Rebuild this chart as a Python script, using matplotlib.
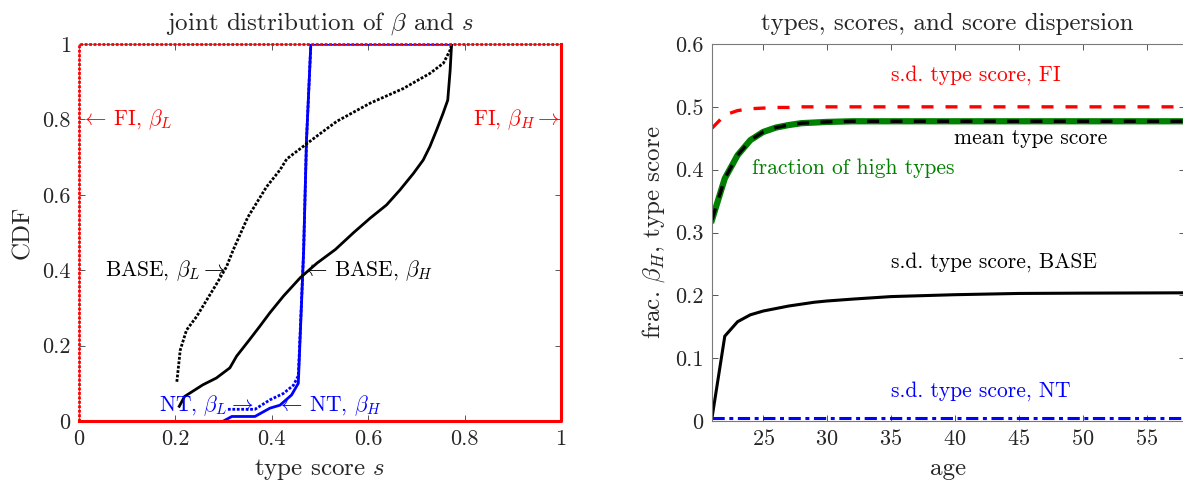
import matplotlib
matplotlib.use("Agg")
import matplotlib.pyplot as plt
from matplotlib.ticker import FuncFormatter

plt.rcParams['font.family'] = 'serif'
plt.rcParams['font.serif'] = ['cmr10']
plt.rcParams['mathtext.fontset'] = 'cm'
plt.rcParams['axes.formatter.use_mathtext'] = True
plt.rcParams['axes.unicode_minus'] = False

# ---- left panel: CDFs of type score s, by beta ----
base_h_s = [0.208, 0.219, 0.257, 0.285, 0.313, 0.327, 0.354, 0.375, 0.396, 0.424, 0.459,
            0.494, 0.532, 0.570, 0.604, 0.638, 0.666, 0.694, 0.714, 0.728, 0.742, 0.755,
            0.765, 0.770, 0.773]
base_h_cdf = [0.039, 0.065, 0.096, 0.114, 0.141, 0.172, 0.216, 0.251, 0.287, 0.331, 0.380,
              0.419, 0.455, 0.500, 0.538, 0.573, 0.613, 0.657, 0.692, 0.728, 0.772, 0.815,
              0.851, 0.93, 1.0]

base_l_s = [0.203, 0.210, 0.223, 0.244, 0.265, 0.286, 0.306, 0.320, 0.350, 0.389, 0.417,
            0.431, 0.472, 0.500, 0.535, 0.604, 0.673, 0.728, 0.756, 0.770, 0.773]
base_l_cdf = [0.104, 0.188, 0.241, 0.277, 0.321, 0.365, 0.409, 0.454, 0.540, 0.621, 0.666,
              0.695, 0.735, 0.762, 0.795, 0.843, 0.882, 0.922, 0.949, 0.984, 1.0]

nt_h_s = [0.300, 0.317, 0.365, 0.396, 0.417, 0.441, 0.455, 0.466, 0.472, 0.481, 0.773]
nt_h_cdf = [0.0, 0.012, 0.012, 0.034, 0.042, 0.069, 0.100, 0.450, 0.745, 1.0, 1.0]

nt_l_s = [0.309, 0.365, 0.396, 0.424, 0.445, 0.455, 0.466, 0.472, 0.481, 0.773]
nt_l_cdf = [0.031, 0.031, 0.056, 0.073, 0.095, 0.120, 0.450, 0.745, 1.0, 1.0]

fi_l_s = [0.0, 0.0, 1.0]
fi_l_cdf = [0.0, 1.0, 1.0]
fi_h_s = [0.0, 1.0, 1.0]
fi_h_cdf = [0.0, 0.0, 1.0]

# ---- right panel: by age ----
ages = [21, 22, 23, 24, 25, 26, 27, 28, 29, 30, 32, 35, 40, 45, 50, 58]
frac_high = [0.320, 0.386, 0.423, 0.447, 0.460, 0.467, 0.471, 0.474, 0.475, 0.476, 0.477,
             0.477, 0.477, 0.477, 0.477, 0.477]
mean_score = [0.320, 0.386, 0.423, 0.447, 0.460, 0.467, 0.471, 0.474, 0.475, 0.476, 0.477,
              0.477, 0.477, 0.477, 0.477, 0.477]
sd_fi = [0.466, 0.487, 0.494, 0.497, 0.498, 0.499, 0.499, 0.500, 0.500, 0.500, 0.500,
         0.500, 0.500, 0.500, 0.500, 0.500]
sd_base = [0.005, 0.135, 0.158, 0.169, 0.175, 0.179, 0.183, 0.186, 0.189, 0.191, 0.194,
           0.198, 0.201, 0.203, 0.2035, 0.204]
sd_nt = [0.005, 0.005, 0.005, 0.005, 0.005, 0.005, 0.005, 0.005, 0.005, 0.005, 0.005,
         0.005, 0.005, 0.005, 0.005, 0.005]

RED = '#ff0000'
BLUE = '#0000ff'
GREEN = '#008000'
TXT = '#262626'
FS_LAB = 18
FS_TICK = 16
FS_ANN = 15.5


def style_axes(ax):
    for sp in ax.spines.values():
        sp.set_color('#7a7a7a')
        sp.set_linewidth(0.8)
    ax.tick_params(direction='in', length=4, width=0.7, color='#555555',
                   labelsize=FS_TICK, labelcolor=TXT, top=True, right=True, pad=6)


fig = plt.figure(figsize=(11.83, 4.83), dpi=100)
ax1 = fig.add_axes([79 / 1183, 62 / 483, 482 / 1183, 377 / 483])
ax2 = fig.add_axes([712 / 1183, 62 / 483, 473 / 1183, 377 / 483])

# left panel
dot = (0, (1, 0.6))
ax1.plot(nt_h_s, nt_h_cdf, color=BLUE, lw=2, zorder=3)
ax1.plot(nt_l_s, nt_l_cdf, color=BLUE, lw=2, linestyle=dot, zorder=3)
ax1.plot(base_h_s, base_h_cdf, color='black', lw=2, zorder=3)
ax1.plot(base_l_s, base_l_cdf, color='black', lw=2, linestyle=dot, zorder=3)
ax1.plot(fi_h_s, fi_h_cdf, color=RED, lw=2.2, clip_on=False, zorder=4)
ax1.plot(fi_l_s, fi_l_cdf, color=RED, lw=2, linestyle=dot, clip_on=False, zorder=4)

ax1.set_xlim(0, 1)
ax1.set_ylim(0, 1)
ax1.set_xticks([0, 0.2, 0.4, 0.6, 0.8, 1])
ax1.set_yticks([0, 0.2, 0.4, 0.6, 0.8, 1])
fmt = FuncFormatter(lambda v, p: ('%g' % round(v, 3)))
ax1.xaxis.set_major_formatter(fmt)
ax1.yaxis.set_major_formatter(fmt)
style_axes(ax1)
ax1.set_title(r'joint distribution of $\beta$ and $s$', fontsize=FS_LAB, color=TXT, pad=10)
ax1.set_xlabel(r'type score $s$', fontsize=FS_LAB, color=TXT, labelpad=6)
ax1.set_ylabel('CDF', fontsize=FS_LAB, color=TXT, labelpad=6)

ax1.text(0.004, 0.8, r'$\leftarrow\,$FI, $\beta_L$', color=RED, fontsize=FS_ANN,
         ha='left', va='center')
ax1.text(0.998, 0.8, r'FI, $\beta_H \rightarrow$', color=RED, fontsize=FS_ANN,
         ha='right', va='center')
ax1.text(0.305, 0.4, r'BASE, $\beta_L \rightarrow$', color='black', fontsize=FS_ANN,
         ha='right', va='center')
ax1.text(0.462, 0.4, r'$\leftarrow\,$BASE, $\beta_H$', color='black', fontsize=FS_ANN,
         ha='left', va='center')
ax1.text(0.362, 0.04, r'NT, $\beta_L \rightarrow$', color=BLUE, fontsize=FS_ANN,
         ha='right', va='center')
ax1.text(0.410, 0.04, r'$\leftarrow\,$NT, $\beta_H$', color=BLUE, fontsize=FS_ANN,
         ha='left', va='center')

# right panel
ax2.plot(ages, frac_high, color=GREEN, lw=4.5)
ax2.plot(ages, mean_score, color='black', lw=2.4, linestyle=(0, (3.6, 3.4)))
ax2.plot(ages, sd_fi, color=RED, lw=2.4, linestyle=(0, (3.6, 3.6)))
ax2.plot(ages, sd_base, color='black', lw=2.2)
ax2.plot(ages, sd_nt, color=BLUE, lw=2.2, linestyle=(0, (4.0, 1.5, 1.3, 1.5)))

ax2.set_xlim(21, 58)
ax2.set_ylim(0, 0.6)
ax2.set_xticks([25, 30, 35, 40, 45, 50, 55])
ax2.set_yticks([0, 0.1, 0.2, 0.3, 0.4, 0.5, 0.6])
ax2.yaxis.set_major_formatter(fmt)
style_axes(ax2)
ax2.set_title('types, scores, and score dispersion', fontsize=FS_LAB, color=TXT,
              pad=10, x=0.497)
ax2.set_xlabel('age', fontsize=FS_LAB, color=TXT, labelpad=6)
ax2.set_ylabel(r'frac. $\beta_H$, type score', fontsize=FS_LAB, color=TXT, labelpad=6)

ax2.text(35, 0.55, 's.d. type score, FI', color=RED, fontsize=FS_ANN, ha='left', va='center')
ax2.text(39.9, 0.45, 'mean type score', color='black', fontsize=FS_ANN, ha='left', va='center')
ax2.text(24.1, 0.402, 'fraction of high types', color=GREEN, fontsize=FS_ANN,
         ha='left', va='center')
ax2.text(35, 0.253, 's.d. type score, BASE', color='black', fontsize=FS_ANN,
         ha='left', va='center')
ax2.text(35, 0.047, 's.d. type score, NT', color=BLUE, fontsize=FS_ANN, ha='left', va='center')

fig.savefig('out.png', dpi=100)
